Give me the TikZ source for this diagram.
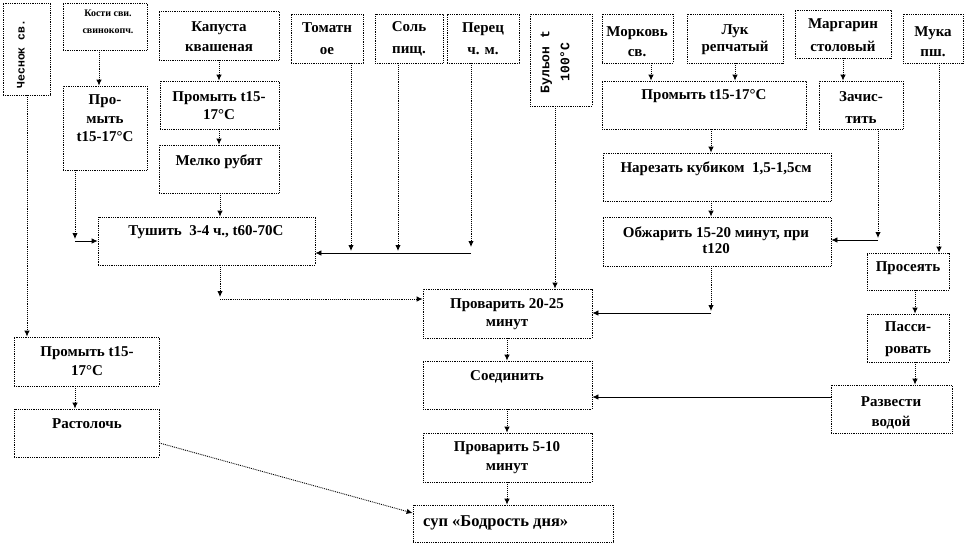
\documentclass[tikz,border=0pt]{standalone}
\usepackage{fontspec}
\setmainfont{Liberation Serif}
\newfontfamily\monof{Liberation Mono}
\usetikzlibrary{arrows.meta,fit}
\newcommand{\fs}[2]{\fontsize{#1}{#2}\selectfont\bfseries}
\tikzset{
  bx/.style={draw, densely dotted, line width=0.8pt, inner sep=0pt},
  lbl/.style={align=center, inner sep=0pt, font=\fs{15}{18}},
  dl/.style={densely dotted, line width=0.9pt},
  sl/.style={line width=0.8pt},
  arr/.style={-{Latex[length=6pt,width=5.5pt]}},
}
\begin{document}
\begin{tikzpicture}[x=1pt,y=-1pt]
\fill[white] (0,0) rectangle (966,544);
\useasboundingbox (0,0) rectangle (966,544);
% boxes
\node[bx, fit={(3,3) (50,95)}] (ches) {};
\node[bx, fit={(63,3) (147,50)}] (kost) {};
\node[bx, fit={(63,86) (147,170)}] (prom1) {};
\node[bx, fit={(159,11) (279,60)}] (kap) {};
\node[bx, fit={(160,81) (279,129)}] (prom2) {};
\node[bx, fit={(159,145) (279,193)}] (mel) {};
\node[bx, fit={(291,14) (363,63)}] (tom) {};
\node[bx, fit={(375,14) (443,63)}] (sol) {};
\node[bx, fit={(447,14) (519,63)}] (per) {};
\node[bx, fit={(530,14) (592,106)}] (bul) {};
\node[bx, fit={(602,14) (673,63)}] (mor) {};
\node[bx, fit={(687,14) (783,63)}] (luk) {};
\node[bx, fit={(795,10) (891,58)}] (mar) {};
\node[bx, fit={(903,14) (963,63)}] (muk) {};
\node[bx, fit={(602,81) (806,129)}] (prom3) {};
\node[bx, fit={(819,81) (903,129)}] (zach) {};
\node[bx, fit={(98,217) (315,265)}] (tush) {};
\node[bx, fit={(603,153) (831,201)}] (nar) {};
\node[bx, fit={(603,217) (831,266)}] (obj) {};
\node[bx, fit={(867,253) (949,290)}] (pros) {};
\node[bx, fit={(867,314) (949,362)}] (pass) {};
\node[bx, fit={(831,385) (952,433)}] (razv) {};
\node[bx, fit={(423,289) (592,338)}] (prov1) {};
\node[bx, fit={(423,361) (592,409)}] (soed) {};
\node[bx, fit={(423,433) (592,482)}] (prov2) {};
\node[bx, fit={(413,505) (613,542)}] (sup) {};
\node[bx, fit={(14,337) (159,386)}] (prom4) {};
\node[bx, fit={(14,409) (159,457)}] (rast) {};
% labels
\node[lbl, rotate=90, font=\monof\fs{11.5}{12}] (ches-t) at (21,54) {Чеснок св.};
\node[lbl, font=\fs{10}{17}] (kost-t) at (108,21.5) {Кости сви.\\свинокопч.};
\node[lbl, font=\fs{15}{18.5}] (prom1-t) at (105,118.5) {Про-\\мыть\\t15-17°C};
\node[lbl, font=\fs{15}{20}] (kap-t) at (219,37) {Капуста\\квашеная};
\node[lbl, font=\fs{15}{17.5}] (prom2-t) at (219,105.5) {Промыть t15-\\17°C};
\node[lbl] (mel-t) at (219,162) {Мелко рубят};
\node[lbl, font=\fs{15}{22}] (tom-t) at (327,39) {Томатн\\ое};
\node[lbl, font=\fs{15}{22}] (sol-t) at (409,39) {Соль\\пищ.};
\node[lbl, font=\fs{15}{22}] (per-t) at (483,39) {Перец\\ч. м.};
\node[lbl, rotate=90, font=\monof\fs{13}{20}] (bul-t) at (555,62) {Бульон t\\100°C};
\node[lbl, font=\fs{15}{20}] (mor-t) at (637,42) {Морковь\\св.};
\node[lbl, font=\fs{15}{17}] (luk-t) at (735,40) {Лук\\репчатый};
\node[lbl, font=\fs{15}{23}] (mar-t) at (843,35.5) {Маргарин\\столовый};
\node[lbl, font=\fs{15}{20}] (muk-t) at (933,42) {Мука\\пш.};
\node[lbl] (prom3-t) at (704,96) {Промыть t15-17°C};
\node[lbl, font=\fs{15}{22}] (zach-t) at (861,108) {Зачис-\\тить};
\node[lbl] (tush-t) at (206,232) {Тушить\ \ 3-4 ч., t60-70С};
\node[lbl] (nar-t) at (716,169) {Нарезать кубиком\ \ 1,5-1,5см};
\node[lbl, font=\fs{15}{16.5}] (obj-t) at (716,240) {Обжарить 15-20 минут, при\\t120};
\node[lbl] (pros-t) at (908,268) {Просеять};
\node[lbl, font=\fs{15}{22}] (pass-t) at (908,339) {Пасси-\\ровать};
\node[lbl, font=\fs{15}{20}] (razv-t) at (891,413) {Развести\\водой};
\node[lbl] (prov1-t) at (507,314) {Проварить 20-25\\минут};
\node[lbl] (soed-t) at (507,377) {Соединить};
\node[lbl, font=\fs{15}{19}] (prov2-t) at (507,457.5) {Проварить 5-10\\минут};
\node[lbl, anchor=west, font=\fs{16.5}{19}] (sup-t) at (423,523) {суп «Бодрость дня»};
\node[lbl, font=\fs{15}{19}] (prom4-t) at (87,361.5) {Промыть t15-\\17°C};
\node[lbl] (rast-t) at (87,424) {Растолочь};
% junction coordinates
\coordinate (j1) at (75,241);
\coordinate (j2) at (471,253);
\coordinate (j3) at (220,299);
\coordinate (j4) at (878,240);
\coordinate (j5) at (711,313);
% connectors
\draw[dl,arr] (27,0 |- ches.south) -- (27,0 |- prom4.north);
\draw[dl,arr] (99,0 |- kost.south) -- (99,0 |- prom1.north);
\draw[dl,arr] (75,0 |- prom1.south) -- (75,239);
\draw[sl,arr] (j1) -- (tush.west |- j1);
\draw[dl,arr] (219,0 |- kap.south) -- (219,0 |- prom2.north);
\draw[dl,arr] (219,0 |- prom2.south) -- (219,0 |- mel.north);
\draw[dl,arr] (220,0 |- mel.south) -- (220,0 |- tush.north);
\draw[dl,arr] (351,0 |- tom.south) -- (351,251);
\draw[dl,arr] (398,0 |- sol.south) -- (398,251);
\draw[dl,arr] (471,0 |- per.south) -- (471,247);
\draw[sl,arr] (j2) -- (tush.east |- j2);
\draw[dl,arr] (220,0 |- tush.south) -- (220,297);
\draw[dl,arr] (j3) -- (prov1.west |- j3);
\draw[dl,arr] (555,0 |- bul.south) -- (555,0 |- prov1.north);
\draw[dl,arr] (651,0 |- mor.south) -- (651,0 |- prom3.north);
\draw[dl,arr] (735,0 |- luk.south) -- (735,0 |- prom3.north);
\draw[dl,arr] (843,0 |- mar.south) -- (843,0 |- zach.north);
\draw[dl,arr] (939,0 |- muk.south) -- (939,0 |- pros.north);
\draw[dl,arr] (711,0 |- prom3.south) -- (711,0 |- nar.north);
\draw[dl,arr] (711,0 |- nar.south) -- (711,0 |- obj.north);
\draw[dl,arr] (878,0 |- zach.south) -- (878,238);
\draw[sl,arr] (j4) -- (obj.east |- j4);
\draw[dl,arr] (711,0 |- obj.south) -- (711,311);
\draw[sl,arr] (j5) -- (prov1.east |- j5);
\draw[dl,arr] (915,0 |- pros.south) -- (915,0 |- pass.north);
\draw[dl,arr] (915,0 |- pass.south) -- (915,0 |- razv.north);
\draw[sl,arr] (razv.west |- 0,397) -- (soed.east |- 0,397);
\draw[dl,arr] (507,0 |- prov1.south) -- (507,0 |- soed.north);
\draw[dl,arr] (507,0 |- soed.south) -- (507,0 |- prov2.north);
\draw[dl,arr] (507,0 |- prov2.south) -- (507,0 |- sup.north);
\draw[dl,arr] (rast.east |- 0,443) -- (sup.west |- 0,513);
\draw[dl,arr] (75,0 |- prom4.south) -- (75,0 |- rast.north);
\end{tikzpicture}
\end{document}
